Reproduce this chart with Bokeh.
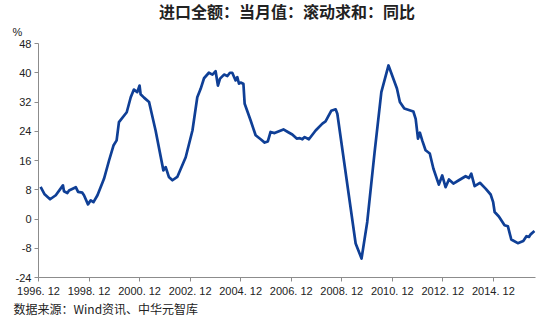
from bokeh.plotting import figure
from bokeh.models import FixedTicker, Title
from bokeh.embed import file_html
from bokeh.resources import INLINE

title_text = "进口全额：当月值：滚动求和：同比"
source_text = "数据来源：Wind资讯、中华元智库"
unit_text = "%"

# x = months after 1996.12
x_tick_values = [0, 24, 48, 72, 96, 120, 144, 168, 192, 216]
x_tick_labels = ["1996. 12", "1998. 12", "2000. 12", "2002. 12", "2004. 12",
                 "2006. 12", "2008. 12", "2010. 12", "2012. 12", "2014. 12"]
y_tick_values = [-16, -8, 0, 8, 16, 24, 32, 40, 48]
y_tick_labels = ["-24", "-8", "0", "8", "16", "24", "32", "40", "48"]

months = [1.0, 2.9, 5.5, 8.2, 11.6, 12.1, 13.7, 14.5, 17.7, 18.8, 20.8, 21.6, 23.5, 24.8,
          26.1, 28.0, 31.1, 33.5, 35.6, 37.1, 38.2, 41.9, 43.8, 45.3, 46.9, 48.0, 48.5,
          50.1, 52.5, 55.6, 59.3, 60.4, 61.9, 63.6, 65.9, 69.9, 73.1, 75.4, 77.0, 78.6,
          80.9, 82.6, 84.1, 85.2, 86.2, 88.1, 89.7, 90.9, 92.0, 93.6, 94.4, 95.2, 96.0,
          97.3, 97.9, 100.7, 103.1, 105.5, 107.4, 108.9, 110.2, 112.1, 114.2, 116.3,
          118.4, 120.5, 122.6, 124.1, 125.3, 126.4, 128.4, 131.6, 134.8, 136.3, 139.0,
          141.1, 141.9, 150.6, 153.4, 156.1, 159.6, 162.8, 166.2, 170.2, 171.6, 173.7,
          178.0, 179.1, 180.2, 181.1, 182.2, 183.8, 185.8, 187.5, 190.1, 191.7, 193.3,
          194.9, 197.0, 199.6, 202.8, 204.4, 205.5, 207.1, 209.6, 212.3, 214.7, 215.9,
          216.6, 218.6, 221.3, 222.9, 224.5, 227.6, 230.2, 231.7, 232.9, 233.7, 235.5]
growth = [8.8, 6.75, 5.4, 6.5, 9.2, 7.6, 7.1, 7.8, 8.7, 7.4, 7.2, 6.5, 4.0, 5.1,
          4.6, 6.5, 11.0, 16.0, 20.1, 21.5, 26.5, 29.2, 33.3, 35.4, 34.7, 36.5, 34.1,
          33.2, 32.0, 24.2, 13.3, 14.2, 11.5, 10.6, 11.5, 16.9, 24.2, 33.3, 35.6, 38.5,
          40.0, 39.5, 40.4, 36.5, 38.4, 39.5, 39.1, 40.0, 40.0, 37.9, 38.8, 37.0, 37.3,
          37.0, 31.5, 27.0, 22.9, 21.8, 20.9, 21.2, 23.8, 23.5, 24.0, 24.5,
          23.8, 23.1, 22.0, 22.1, 21.8, 22.4, 21.8, 24.2, 26.1, 26.7, 29.6,
          30.0, 28.8, -6.7, -10.8, -0.8, 18.3, 34.7, 42.0, 35.7, 32.0, 30.2,
          29.4, 27.4, 22.0, 23.6, 21.5, 18.8, 17.9, 13.8, 9.4, 11.9, 8.7,
          10.8, 9.7, 10.6, 11.7, 11.2, 12.4, 9.0, 9.9, 8.3, 6.7, 4.6,
          1.9, 0.7, -1.7, -2.0, -5.6, -6.6, -6.0, -4.7, -4.9, -4.2, -3.3]

FONT = "Liberation Sans"
CJK = "Noto Sans CJK SC"
TXT = "#222222"
AXIS = "#8c8c8c"

p = figure(width=543, height=319, output_backend="svg", toolbar_location=None,
           x_range=(0, 236), y_range=(-16, 48), title=None)
p.min_border_left = 38
p.min_border_right = 8
p.min_border_top = 43
p.min_border_bottom = 42
p.outline_line_color = None
p.background_fill_color = "white"
p.border_fill_color = "white"
p.xgrid.visible = False
p.ygrid.visible = False

p.line(months, growth, line_color="#0f3f96", line_width=2.7, line_join="round")

p.xaxis.ticker = FixedTicker(ticks=x_tick_values)
p.xaxis.major_label_overrides = {v: s for v, s in zip(x_tick_values, x_tick_labels)}
p.yaxis.ticker = FixedTicker(ticks=y_tick_values)
p.yaxis.major_label_overrides = {v: s for v, s in zip(y_tick_values, y_tick_labels)}

for ax in (p.xaxis, p.yaxis):
    ax.axis_line_color = AXIS
    ax.major_tick_line_color = AXIS
    ax.minor_tick_line_color = None
    ax.major_tick_in = 0
    ax.major_tick_out = 4
    ax.major_label_text_font = FONT
    ax.major_label_text_font_size = "11px"
    ax.major_label_text_color = TXT
p.xaxis.major_label_standoff = 3
p.yaxis.major_label_standoff = 3

unit_title = Title(text=unit_text, align="left", offset=-26, standoff=11,
                   text_font=FONT, text_font_size="11px", text_font_style="normal",
                   text_color=TXT)
main_title = Title(text=title_text, align="center", offset=-20, standoff=-9,
                   text_font=CJK, text_font_size="16px", text_font_style="bold",
                   text_color=TXT)
p.add_layout(unit_title, "above")
p.add_layout(main_title, "above")

source_title = Title(text=source_text, align="left", offset=-25, standoff=-4,
                     text_font=CJK, text_font_size="12px", text_font_style="normal",
                     text_color=TXT)
p.add_layout(source_title, "below")

open("out.html", "w").write(file_html(p, INLINE))
